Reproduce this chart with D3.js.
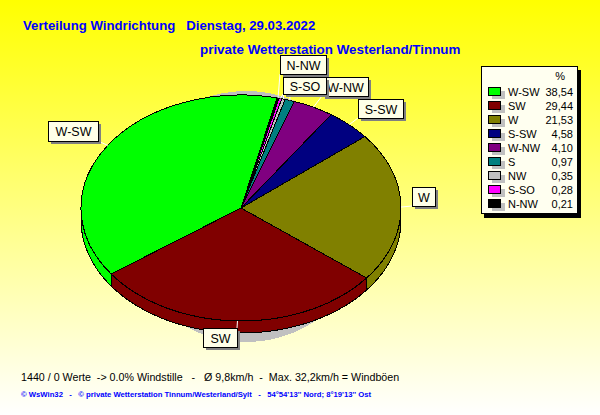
<!DOCTYPE html>
<html><head><meta charset="utf-8">
<script src="https://cdn.jsdelivr.net/npm/d3@7"></script>
<style>html,body{margin:0;padding:0;overflow:hidden;background:#fff}svg{display:block}text{font-family:"Liberation Sans",Arial,sans-serif}</style>
</head><body><svg id="c" width="600" height="415"></svg>
<script>
const categories=["W-SW","SW","W","S-SW","W-NW","S","NW","S-SO","N-NW"];
const values=[38.54,29.44,21.53,4.58,4.10,0.97,0.35,0.28,0.21];
const valueLabels=["38,54","29,44","21,53","4,58","4,10","0,97","0,35","0,28","0,21"];
const colors=["#00ff00","#800000","#808000","#000080","#800080","#008080","#c0c0c0","#ff00ff","#000000"];
const titleLine1="Verteilung Windrichtung   Dienstag, 29.03.2022";
const titleLine2="private Wetterstation Westerland/Tinnum";
const footer1="1440 / 0 Werte  -> 0.0% Windstille   -   Ø 9,8km/h  -  Max. 32,2km/h = Windböen";
const footer2="© WsWin32   -   © private Wetterstation Tinnum/Westerland/Sylt   -   54°54'13'' Nord; 8°19'13'' Ost";
// label box placement for each category: [left, top, right, bottom]
const labelBoxes={"W-SW":[48,121,98,141],"SW":[203,328,237,347],"W":[412,187,435,206],"S-SW":[358,99,403,118],"W-NW":[322,77,368,96],"S":[283,77,326,94],"NW":[283,77,326,94],"S-SO":[283,77,326,94],"N-NW":[280,55,326,74]};
const labelOrder=["W-NW","S-SW","W-SW","SW","W","N-NW","S-SO"];

const svg=d3.select("#c");
const defs=svg.append("defs");
const g=defs.append("linearGradient").attr("id","bg").attr("x1",0).attr("y1",0).attr("x2",0).attr("y2",1);
g.append("stop").attr("offset",0).attr("stop-color","#ffff00");
g.append("stop").attr("offset",1).attr("stop-color","#ffffff");
svg.append("rect").attr("width",600).attr("height",415).attr("fill","url(#bg)");

const cx=241,cy=208,rx=160,ry=113,depth=12;
const deg=Math.PI/180;
const pie=d3.pie().value(d=>d).sort(null).startAngle(13*deg).endAngle((13-360)*deg);
const arcs=pie(values);
const pt=(a,dy=0)=>[cx+rx*Math.sin(a),cy-ry*Math.cos(a)+dy];

// shadow
svg.append("ellipse").attr("cx",246).attr("cy",216.5).attr("rx",125).attr("ry",125.5).attr("fill","#c0c0c0").attr("shape-rendering","crispEdges");

// rim
const line=d3.line();
arcs.forEach((d,i)=>{
  const a0=Math.max(d.startAngle,d.endAngle),a1=Math.min(d.startAngle,d.endAngle);
  const steps=d3.range(0,61).map(k=>a0+(a1-a0)*k/60).filter(a=>Math.cos(a)<=0.02);
  if(steps.length<2)return;
  const top=steps.map(a=>pt(a)),bot=steps.map(a=>pt(a,depth)).reverse();
  svg.append("path").attr("d",line(top.concat(bot))+"Z").attr("fill",colors[i]).attr("stroke","#000").attr("stroke-width",1).attr("stroke-linejoin","round").attr("shape-rendering","crispEdges");
});
// top face
const arcGen=d3.arc().innerRadius(0).outerRadius(rx);
const face=svg.append("g").attr("transform",`translate(${cx},${cy}) scale(1,${ry/rx})`);
face.selectAll("path").data(arcs).join("path").attr("d",arcGen).attr("fill",(d,i)=>colors[i]).attr("stroke","#000").attr("stroke-width",1).attr("vector-effect","non-scaling-stroke").attr("shape-rendering","crispEdges");

// leader lines
categories.forEach((c,i)=>{
  const b=labelBoxes[c]; if(!b)return;
  const d=arcs[i],m=(d.startAngle+d.endAngle)/2,p=pt(m);
  const tx=Math.max(b[0],Math.min(b[2],p[0])),ty=p[1]<b[1]?b[1]:(p[1]>b[3]?b[3]:p[1]);
  svg.append("line").attr("x1",p[0]).attr("y1",p[1]).attr("x2",tx).attr("y2",ty).attr("stroke","#fff").attr("stroke-width",1);
});
// label boxes
labelOrder.forEach(c=>{
  const b=labelBoxes[c],w=b[2]-b[0],h=b[3]-b[1];
  svg.append("rect").attr("x",b[0]+3).attr("y",b[1]+3).attr("width",w).attr("height",h).attr("fill","#808080");
  svg.append("rect").attr("x",b[0]+.5).attr("y",b[1]+.5).attr("width",w).attr("height",h).attr("fill","#ffffe8").attr("stroke","#000");
  svg.append("text").attr("x",b[0]+w/2+.5).attr("y",b[1]+h/2+5).attr("text-anchor","middle").attr("font-size",12.5).attr("fill","#000").text(c);
});

// titles
svg.append("text").attr("x",23).attr("y",30).attr("font-size",13.2).attr("font-weight","bold").attr("fill","#0000ff").style("white-space","pre").text(titleLine1);
svg.append("text").attr("x",200).attr("y",54).attr("font-size",13.4).attr("font-weight","bold").attr("fill","#0000ff").text(titleLine2);

// legend
svg.append("rect").attr("x",484).attr("y",70).attr("width",97).attr("height",148).attr("fill","#000");
svg.append("rect").attr("x",481.5).attr("y",66.5).attr("width",96).attr("height",147).attr("fill","#fffff0").attr("stroke","#000");
svg.append("text").attr("x",565).attr("y",80).attr("text-anchor","end").attr("font-size",11).text("%");
const yL=d3.scaleBand().domain(categories).range([85,211]);
categories.forEach((c,i)=>{
  const y=yL(c)+yL.bandwidth()/2;
  svg.append("rect").attr("x",492).attr("y",y-1).attr("width",13).attr("height",8).attr("fill","#c0c0c0");
  svg.append("rect").attr("x",488.5).attr("y",y-4.5).attr("width",12).attr("height",8).attr("fill",colors[i]).attr("stroke","#000");
  svg.append("text").attr("x",508).attr("y",y+4).attr("font-size",11).text(c);
  svg.append("text").attr("x",573).attr("y",y+4).attr("text-anchor","end").attr("font-size",11).text(valueLabels[i]);
});
// footers
svg.append("text").attr("x",21).attr("y",381).attr("font-size",10.7).style("white-space","pre").text(footer1);
svg.append("text").attr("x",21).attr("y",397).attr("font-size",7.7).attr("font-weight","bold").attr("fill","#0000ff").style("white-space","pre").text(footer2);
</script></body></html>
